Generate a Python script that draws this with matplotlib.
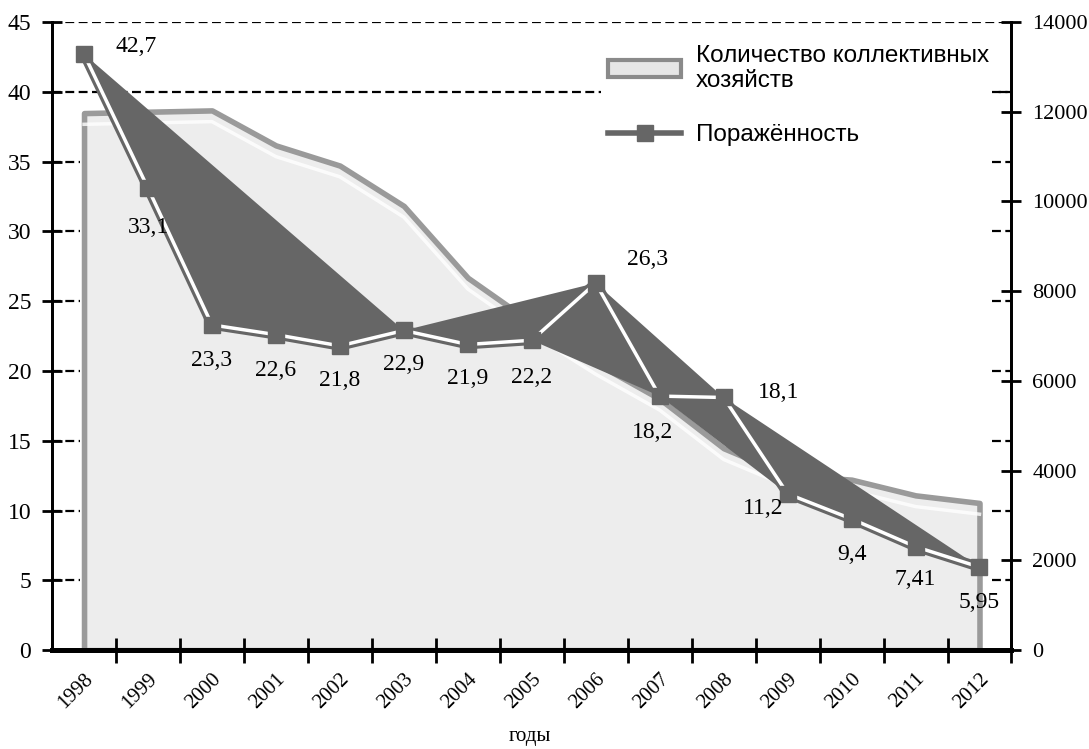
import numpy as np
import matplotlib.pyplot as plt
from matplotlib.patches import Patch
from matplotlib.lines import Line2D

# data
years = ['1998', '1999', '2000', '2001', '2002', '2003', '2004', '2005',
         '2006', '2007', '2008', '2009', '2010', '2011', '2012']
farms = [11970, 12000, 12030, 11250, 10800, 9900, 8300, 7300,
         6400, 5600, 4500, 3900, 3800, 3450, 3280]
infection = [42.7, 33.1, 23.3, 22.6, 21.8, 22.9, 21.9, 22.2,
             26.3, 18.2, 18.1, 11.2, 9.4, 7.41, 5.95]
infection_labels = ['42,7', '33,1', '23,3', '22,6', '21,8', '22,9', '21,9', '22,2',
                    '26,3', '18,2', '18,1', '11,2', '9,4', '7,41', '5,95']

# label offsets in pixels (dx, dy)
label_offsets = [(52, 8), (1, -39), (0, -36), (0, -36), (0, -35), (0, -34), (0, -34),
                 (0, -37), (52, 24), (-7, -36), (55, 5), (-24, -15), (0, -36),
                 (0, -33), (0, -35)]

# groups of points forming the dark "ribbon" of the line
ribbon_groups = [[0, 1, 2, 3, 4, 5], [5, 6, 7, 8], [7, 8, 10, 11, 9], [10, 14, 13, 12, 11]]

serif = 'Liberation Serif'
sans = 'Liberation Sans'
dark = '#666666'

x = np.arange(len(years))
y = np.array(infection)

fig = plt.figure(figsize=(10.89, 7.49), dpi=100)
ax = fig.add_axes([0.0478, 0.132, 0.881, 0.8386])
ax2 = ax.twinx()
ax.set_zorder(ax2.get_zorder() + 1)
ax.patch.set_visible(False)

# area on the right axis
ax2.fill_between(x, farms, 0, facecolor='#ededed', edgecolor='#9a9a9a', linewidth=4, zorder=2)
ax2.plot(x, np.array(farms) - 250, color='white', linewidth=2.5, alpha=0.8, zorder=3)
ax2.set_ylim(0, 14000)
ax2.set_yticks(range(0, 14001, 2000))
ax2.set_yticklabels([str(v) for v in range(0, 14001, 2000)], fontfamily=serif, fontsize=16)

# grid lines of the left axis
ax.axhline(45, color='black', linestyle=(0, (4, 2)), linewidth=1.6, zorder=1)
ax.axhline(40, color='black', linestyle=(0, (4, 2)), linewidth=1.6, zorder=1)
for lv in range(5, 40, 5):
    ax.hlines(lv, -0.5, -0.06, color='black', linestyle=(0, (4, 2)), linewidth=1.6, zorder=1)
for lv in range(5, 45, 5):
    ax.hlines(lv, 14.2, 14.5, color='black', linestyle=(0, (4, 2)), linewidth=1.6, zorder=10)

# line with ribbon
for grp in ribbon_groups:
    ax.fill(x[grp], y[grp], color=dark, linewidth=0, zorder=4)
ax.plot(x, y, color=dark, linewidth=7, solid_joinstyle='miter', zorder=5)
ax.plot(x, y, color='white', linewidth=2.5, zorder=6)
ax.plot(x, y, linestyle='none', marker='s', markersize=12, color=dark, zorder=7)

for xi, yi, lab, (dx, dy) in zip(x, y, infection_labels, label_offsets):
    ax.annotate(lab, (xi, yi), xytext=(dx, dy), textcoords='offset pixels',
                ha='center', va='center', fontsize=17, fontfamily=serif, zorder=8)

ax.set_xlim(-0.5, 14.5)
ax.set_ylim(0, 45)
ax.set_yticks(range(0, 46, 5))
ax.set_yticklabels([str(v) for v in range(0, 46, 5)], fontfamily=serif, fontsize=17)
ax.set_xticks(x + 0.5)
ax.set_xticklabels([])
ax.set_xticks(x, minor=True)
ax.set_xticklabels(years, minor=True, rotation=45, ha='right', va='top',
                   rotation_mode='anchor', fontfamily=serif, fontsize=15)
ax.tick_params(axis='x', which='minor', length=0, pad=14)
ax.tick_params(axis='x', which='major', direction='inout', length=18, width=2)
ax.tick_params(axis='y', direction='inout', length=14, width=2, pad=8)
ax2.tick_params(axis='y', direction='inout', length=14, width=2, pad=8)

for a in (ax, ax2):
    a.spines['top'].set_visible(False)
    a.spines['left'].set_linewidth(2)
    a.spines['right'].set_linewidth(2)
    a.spines['bottom'].set_linewidth(3.5)
ax.spines['right'].set_zorder(11)

ax.set_xlabel('годы', fontfamily=serif, fontsize=15, va='center')
ax.xaxis.set_label_coords(0.498, -0.138)

handles = [Patch(facecolor='#e6e6e6', edgecolor='#8a8a8a', linewidth=3),
           Line2D([0], [0], color=dark, linewidth=4, marker='s', markersize=12)]
leg = ax.legend(handles, ['Количество коллективных\nхозяйств', 'Поражённость'],
                loc='upper left', bbox_to_anchor=(0.572, 0.975), frameon=True,
                facecolor='white', edgecolor='none', framealpha=1, fancybox=False,
                prop={'family': sans, 'size': 17.5}, handlelength=3.0, labelspacing=1.3,
                handletextpad=0.6, borderaxespad=0, borderpad=0.3)
leg.set_zorder(9)

fig.savefig('out.png', dpi=100)
